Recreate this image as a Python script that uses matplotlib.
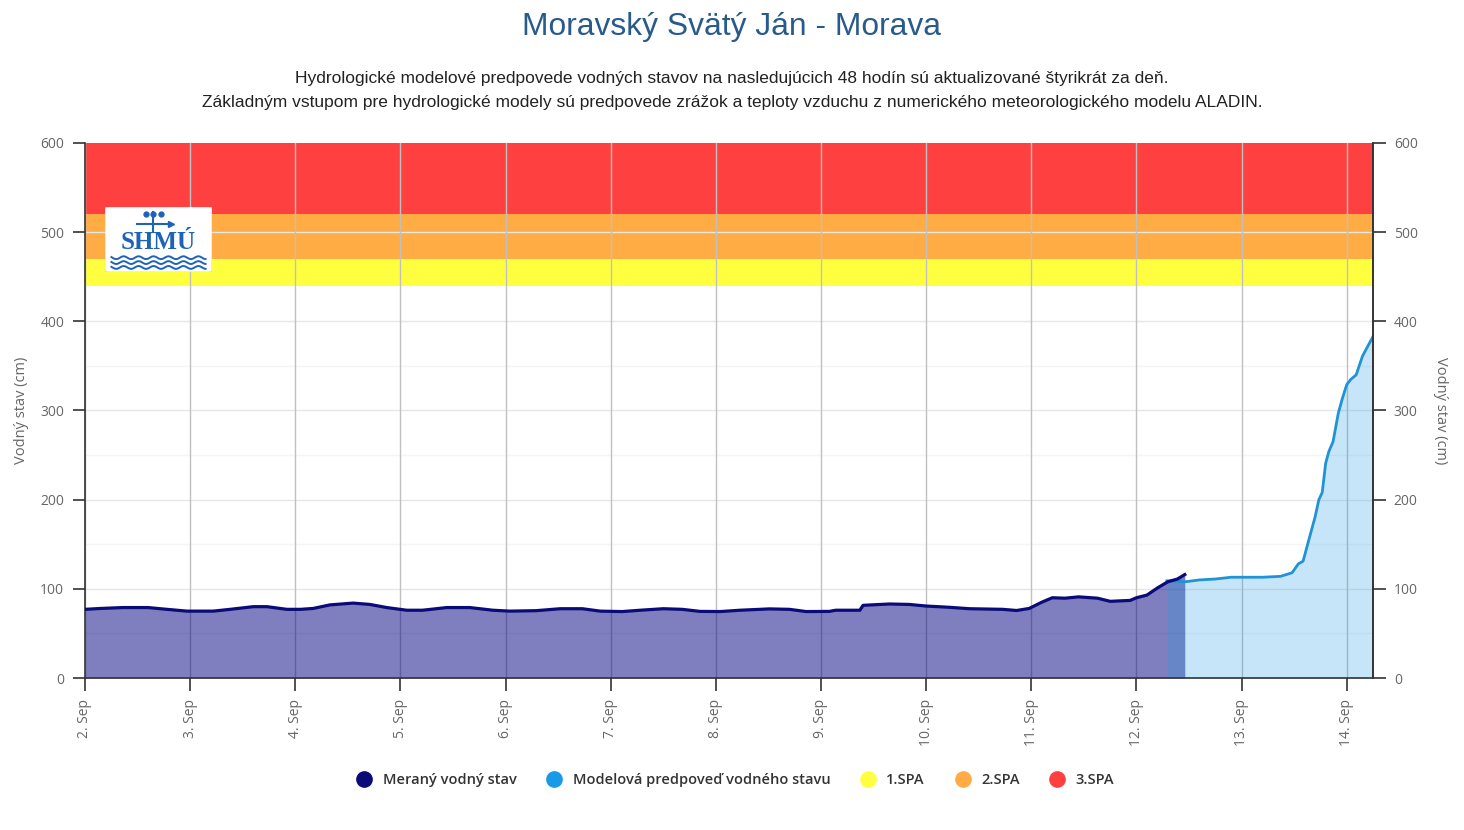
import numpy as np
import matplotlib
matplotlib.use("Agg")
import matplotlib.pyplot as plt
from matplotlib.lines import Line2D
from matplotlib.patches import FancyBboxPatch

# measured water level (day of September, cm)
meas_day = [2.0, 2.15, 2.36, 2.5, 2.6, 2.78, 2.97, 3.22, 3.38, 3.6, 3.73, 3.92,
            4.05, 4.17, 4.33, 4.55, 4.71, 4.87, 5.06, 5.21, 5.44, 5.66, 5.88,
            6.04, 6.29, 6.52, 6.73, 6.9, 7.11, 7.28, 7.5, 7.68, 7.85, 8.04,
            8.23, 8.51, 8.7, 8.86, 9.08, 9.14, 9.33, 9.37, 9.4, 9.65, 9.84,
            10.0, 10.22, 10.41, 10.73, 10.86, 10.98, 11.1, 11.2, 11.32, 11.45,
            11.63, 11.75, 11.94, 12.0, 12.1, 12.2, 12.3, 12.39, 12.46]
meas_cm = [77, 78, 79, 79, 79, 77, 75, 75, 77, 80, 80, 77,
           77, 78, 82, 84, 82.5, 79, 76, 76, 79, 79, 76,
           75, 75.5, 77.7, 77.7, 75, 74.5, 76, 77.7, 77, 74.7, 74.5,
           76, 77.5, 77, 74.5, 74.7, 76, 76, 76, 81.5, 83, 82.5,
           80.7, 79.3, 77.7, 77, 75.7, 78, 85, 90, 89.5, 91,
           89.5, 86, 87, 90, 93, 101, 108, 111, 116]

# model forecast
fc_day = [12.29, 12.47, 12.6, 12.75, 12.9, 13.0, 13.2, 13.37, 13.48, 13.54,
          13.585, 13.64, 13.7, 13.735, 13.767, 13.8, 13.83, 13.87, 13.92,
          13.96, 14.0, 14.04, 14.09, 14.15, 14.25]
fc_cm = [109, 108, 110, 111, 113, 113, 113, 114, 118, 128,
         131, 155, 181, 200, 208, 241, 254, 265, 297,
         314, 329, 335, 340, 361, 383]

# flood warning levels (SPA)
spa_names = ["1.SPA", "2.SPA", "3.SPA"]
spa_low = [440, 470, 520]
spa_high = [470, 520, 600]
spa_colors = ["#ffff40", "#ffac44", "#ff4040"]

day_ticks = list(range(2, 15))
day_labels = [f"{d}. Sep" for d in day_ticks]

title = "Moravský Svätý Ján - Morava"
subtitle = ("Hydrologické modelové predpovede vodných stavov na nasledujúcich 48 hodín sú aktualizované štyrikrát za deň.\n"
            "Základným vstupom pre hydrologické modely sú predpovede zrážok a teploty vzduchu z numerického meteorologického modelu ALADIN.")

plt.rcParams["font.family"] = ["Open Sans", "DejaVu Sans"]

fig = plt.figure(figsize=(14.64, 8.3), dpi=100)
ax = fig.add_axes([85 / 1464, 1 - 678 / 830, (1373 - 85) / 1464, (678 - 143) / 830])

for lo, hi, c in zip(spa_low, spa_high, spa_colors):
    ax.axhspan(lo, hi, color=c, zorder=0.1, lw=0)

# grid
for y in range(50, 600, 50):
    if y % 100 == 0:
        ax.axhline(y, color="#e6e6e6", lw=1, zorder=0.3)
    else:
        ax.axhline(y, color="#f4f4f4", lw=1, zorder=0.05)
for d in day_ticks:
    ax.axvline(d, color="#c0c0c0", lw=1, zorder=0.4)

ax.fill_between(meas_day, meas_cm, 0, color="#000080", alpha=0.5, lw=0, zorder=1)
ax.fill_between(fc_day, fc_cm, 0, color="#1e9be6", alpha=0.25, lw=0, zorder=1.1)
ax.plot(fc_day, fc_cm, color="#1f93d6", lw=2, zorder=2)
ax.plot(meas_day, meas_cm, color="#0a0a78", lw=2.3, zorder=3)

ax.set_xlim(2, fc_day[-1])
ax.set_ylim(0, 600)
ax.set_yticks(range(0, 601, 100))
ax.set_xticks(day_ticks)
ax.set_xticklabels(day_labels, rotation=90, va="top", ha="center")
ax.tick_params(axis="both", colors="#333333", labelcolor="#666666", labelsize=10,
               length=9, width=1.2)
ax.tick_params(axis="x", pad=6)
ax.tick_params(axis="y", pad=6)
ax.spines["top"].set_visible(False)
for s in ["left", "bottom", "right"]:
    ax.spines[s].set_color("#333333")
    ax.spines[s].set_linewidth(1.2)
ax.set_ylabel("Vodný stav (cm)", color="#666666", fontsize=10.5, labelpad=8)

ax2 = ax.twinx()
ax2.set_ylim(0, 600)
ax2.set_yticks(range(0, 601, 100))
ax2.tick_params(axis="y", colors="#333333", labelcolor="#666666", labelsize=10,
                length=9, width=1.2, pad=6)
for s in ["top", "left", "bottom"]:
    ax2.spines[s].set_visible(False)
ax2.spines["right"].set_color("#333333")
ax2.spines["right"].set_linewidth(1.2)
ax2.set_ylabel("Vodný stav (cm)", color="#666666", fontsize=10.5, rotation=270,
               labelpad=22)

fig.text(0.5, 1 - 27 / 830, title, ha="center", va="center", fontsize=22.9,
         color="#285a8c", family=["Liberation Sans", "DejaVu Sans"])
fig.text(0.5, 1 - 91 / 830, subtitle, ha="center", va="center", fontsize=12.5,
         color="#222222", linespacing=1.75, family=["Liberation Sans", "DejaVu Sans"])

# SHMU logo box
lax = fig.add_axes([105 / 1464, 1 - 272 / 830, 107 / 1464, 65 / 830])
lax.set_xlim(0, 1)
lax.set_ylim(0, 1)
lax.axis("off")
lax.add_patch(FancyBboxPatch((0.0, 0.0), 1, 1, boxstyle="round,pad=0,rounding_size=0.03",
                             fc="white", ec="#dddddd", lw=0.8, transform=lax.transAxes))
lax.text(0.5, 0.45, "SHMÚ", ha="center", va="center", fontsize=18, fontweight="bold",
         color="#1f63b8", family=["Liberation Serif", "DejaVu Serif"])
wx = np.linspace(0.06, 0.94, 80)
for k in range(3):
    lax.plot(wx, 0.22 - k * 0.075 + 0.022 * np.sin(wx * 45), color="#1f63b8", lw=1.4)
lax.plot([0.45, 0.45], [0.62, 0.92], color="#1f63b8", lw=1.5)
lax.plot([0.3, 0.62], [0.74, 0.74], color="#1f63b8", lw=1.5)
lax.plot([0.62], [0.74], marker=">", color="#1f63b8", ms=5)
lax.plot([0.38, 0.45, 0.52], [0.9, 0.9, 0.9], "o", color="#1f63b8", ms=3.5)

leg_colors = ["#0a0a78", "#1a9ae6"] + spa_colors
leg_names = ["Meraný vodný stav", "Modelová predpoveď vodného stavu"] + spa_names
handles = [Line2D([], [], ls="none", marker="o", ms=11, mfc=c, mec=c) for c in leg_colors]
fig.legend(handles, leg_names, loc="center", bbox_to_anchor=(0.5, 1 - 780 / 830),
           ncol=5, frameon=False, handletextpad=0.25, columnspacing=1.6,
           prop={"weight": "semibold", "size": 10.5}, labelcolor="#333333")

fig.savefig("out.png", dpi=100)
